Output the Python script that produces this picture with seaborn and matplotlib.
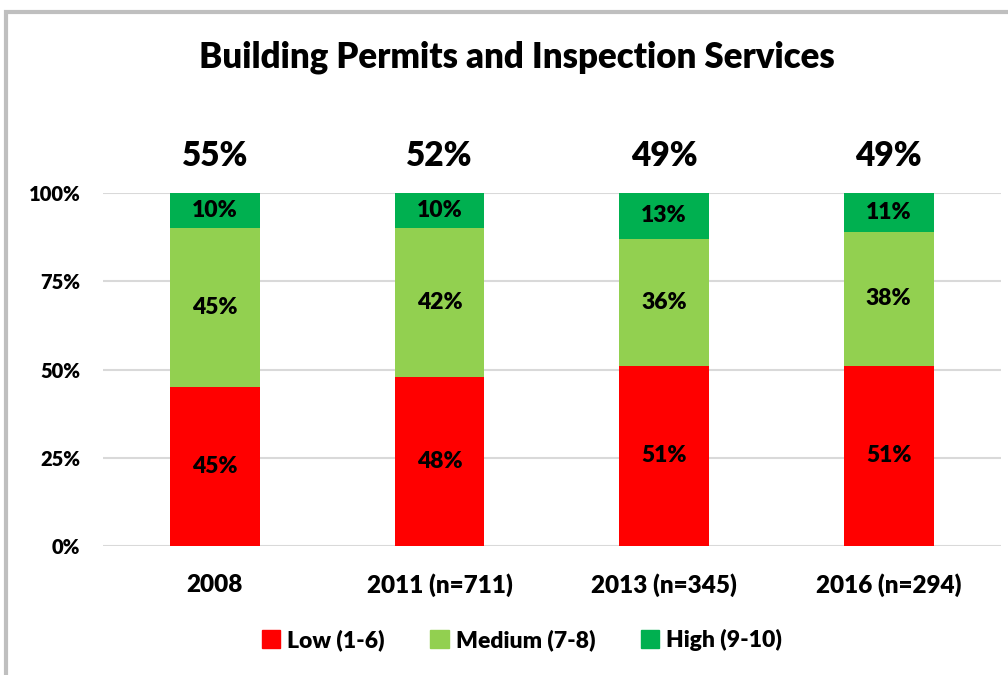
import matplotlib
matplotlib.use("Agg")
import matplotlib.pyplot as plt
import matplotlib.patches as mpatches
from matplotlib import font_manager
import seaborn as sns
import numpy as np
import pandas as pd

categories = ["2008", "2011 (n=711)", "2013 (n=345)", "2016 (n=294)"]
low = [45, 48, 51, 51]
medium = [45, 42, 36, 38]
high = [10, 10, 13, 11]
top_labels = ["55%", "52%", "49%", "49%"]
series_names = ["Low (1-6)", "Medium (7-8)", "High (9-10)"]
colors = ["#FF0000", "#92D050", "#00B050"]

sns.set_theme(style="white")
names = {f.name for f in font_manager.fontManager.ttflist}
fam = "Liberation Sans Narrow" if "Liberation Sans Narrow" in names else "Lato"
plt.rcParams['font.family'] = [fam, 'DejaVu Sans']
plt.rcParams['text.color'] = 'black'
plt.rcParams['xtick.color'] = 'black'
plt.rcParams['ytick.color'] = 'black'
W = "heavy"

fig = plt.figure(figsize=(10.08, 6.75), dpi=100)
ax = fig.add_axes([102.6/1008, 1-546/675, (1001-102.6)/1008, (546-193)/675])

# frame around chart
frame = mpatches.Rectangle((6/1008, -0.05), 1.1, (675-12)/675 + 0.05, transform=fig.transFigure,
                           fill=False, edgecolor="#BFBFBF", linewidth=3, zorder=0)
fig.patches.append(frame)

df = pd.DataFrame({"cat": categories, "low": low, "medium": medium, "high": high})
bottoms = np.zeros(len(categories))
for col, c in zip(["low", "medium", "high"], colors):
    sns.barplot(data=df, x="cat", y=col, bottom=bottoms, color=c, width=0.4,
                ax=ax, saturation=1, zorder=3, linewidth=0)
    vals = df[col].values
    for i, v in enumerate(vals):
        ax.text(i, bottoms[i] + v / 2, f"{v}%", ha="center", va="center",
                fontsize=16.5, fontweight=W, color="black", zorder=4)
    bottoms = bottoms + vals

for i, t in enumerate(top_labels):
    ax.text(i, 110.5, t, ha="center", va="center", fontsize=24,
            fontweight=W, clip_on=False, color="black")

ax.set_ylim(0, 100)
ax.set_xlim(-0.5, 3.5)
ax.set_yticks([0, 25, 50, 75, 100])
ax.set_yticklabels(["0%", "25%", "50%", "75%", "100%"], fontsize=14.5, fontweight=W)
ax.set_xticks(range(4))
ax.set_xticklabels(categories, fontsize=17.5, fontweight=W)
ax.tick_params(axis="x", pad=20, length=0)
ax.tick_params(axis="y", pad=16, length=0)
ax.set_xlabel("")
ax.set_ylabel("")
ax.yaxis.grid(True, color="#D9D9D9", linewidth=1.5, zorder=0)
ax.set_axisbelow(True)
for s in ax.spines.values():
    s.set_visible(False)

fig.text(517/1008, 1-57/675, "Building Permits and Inspection Services", ha="center",
         va="center", fontsize=25, fontweight=W, color="black")

handles = [mpatches.Patch(color=c, label=n) for c, n in zip(colors, series_names)]
leg = fig.legend(handles=handles, loc="center", bbox_to_anchor=(522/1008, 1-640/675), ncol=3,
                 frameon=False, handlelength=0.8, handleheight=0.8,
                 handletextpad=0.3, columnspacing=2.0,
                 prop={"size": 16.5, "weight": W})

fig.savefig("out.png", dpi=100)
